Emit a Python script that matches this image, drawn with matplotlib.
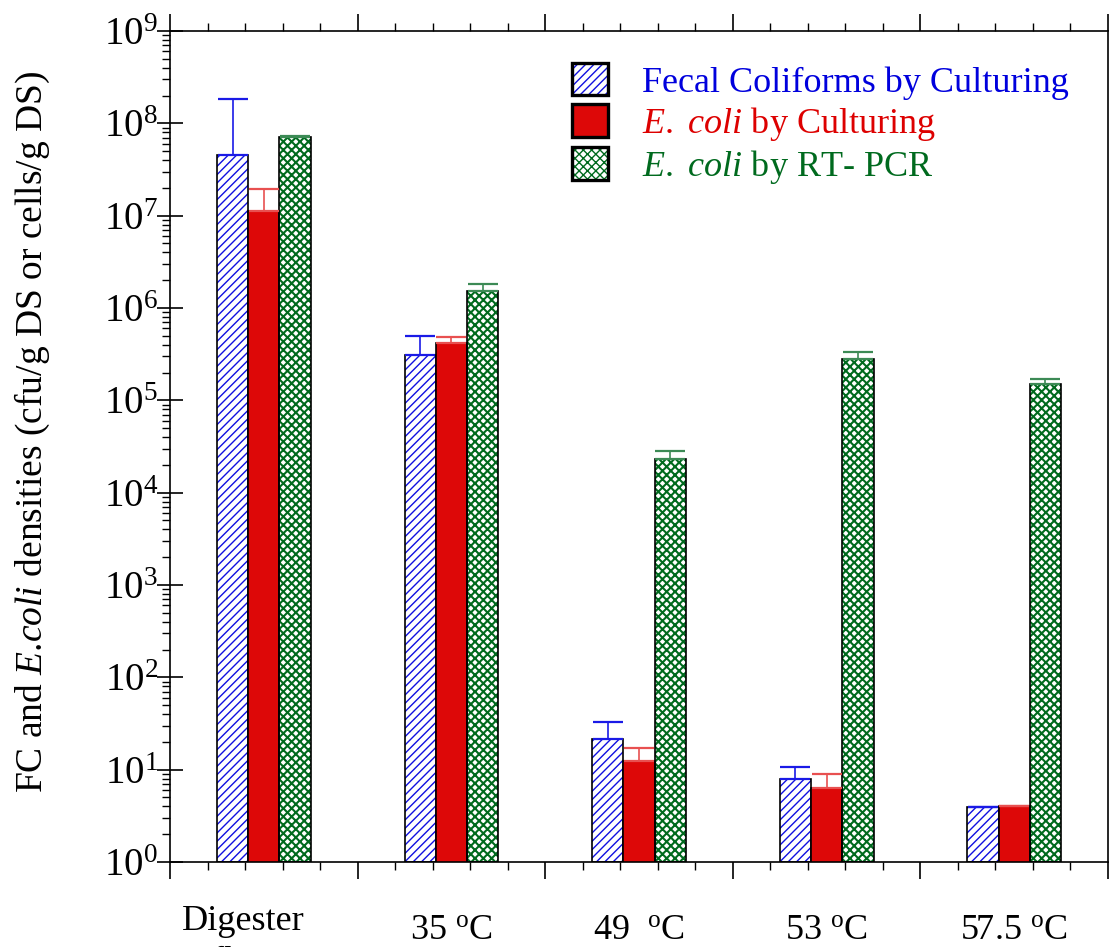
import matplotlib
matplotlib.use("Agg")
import matplotlib.pyplot as plt
import matplotlib.ticker as mticker
import matplotlib.transforms as mtransforms
from matplotlib.patches import Patch
from matplotlib.legend_handler import HandlerTuple
import numpy as np

plt.rcParams['font.family'] = ['Liberation Serif', 'DejaVu Serif']
plt.rcParams['mathtext.fontset'] = 'custom'
plt.rcParams['mathtext.rm'] = 'Liberation Serif'
plt.rcParams['mathtext.it'] = 'Liberation Serif:italic'
plt.rcParams['mathtext.bf'] = 'Liberation Serif:bold'
plt.rcParams['hatch.linewidth'] = 1.0

# ---- data ----
categories = ["Digester\nInfluent", r"35 $^{\mathrm{o}}$C", r"49  $^{\mathrm{o}}$C",
              r"53 $^{\mathrm{o}}$C", r"57.5 $^{\mathrm{o}}$C"]
fc = [4.5e7, 3.08e5, 21.3, 7.87, 3.97]
fc_err_top = [1.84e8, 4.94e5, 33.1, 10.6, 3.97]
ecoli = [1.11e7, 4.21e5, 12.4, 6.28, 4.0]
ecoli_err_top = [1.96e7, 4.82e5, 17.2, 9.04, 4.0]
pcr = [7.2e7, 1.54e6, 2.30e4, 2.81e5, 1.51e5]
pcr_err_top = [7.35e7, 1.83e6, 2.85e4, 3.34e5, 1.69e5]

labels = ["Fecal Coliforms by Culturing",
          r"$\mathit{E.}$ $\mathit{coli}$ by Culturing",
          r"$\mathit{E.}$ $\mathit{coli}$ by RT- PCR"]
text_colors = ["#0000DD", "#DD0000", "#006A1E"]

blue = "#1010E0"
red = "#DD0808"
green = "#006A1E"
err_colors = ["#1A1AE6", "#E85050", "#3C8A55"]

fig = plt.figure(figsize=(11.09, 9.47), dpi=100)
ax = fig.add_axes([170/1109, 85/947, 938/1109, 831/947])

n = len(categories)
x = np.arange(n) + 0.5
w = 1/6
base = 1.0

series = [fc, ecoli, pcr]
errs = [fc_err_top, ecoli_err_top, pcr_err_top]
offsets = [-w, 0, w]

def heights(v):
    return np.array(v) - base

# FC bars (hatched blue)
ax.bar(x + offsets[0], heights(fc), width=w, bottom=base, color='white', edgecolor=blue,
       hatch='////', linewidth=0, zorder=2)
ax.bar(x + offsets[0], heights(fc), width=w, bottom=base, fill=False, edgecolor='black',
       linewidth=1.2, zorder=3)
# E. coli bars (solid red)
ax.bar(x + offsets[1], heights(ecoli), width=w, bottom=base, color=red, edgecolor='black',
       linewidth=1.2, zorder=3)
# RT-PCR bars (crosshatch green)
with plt.rc_context({'hatch.linewidth': 1.5}):
    ax.bar(x + offsets[2], heights(pcr), width=w, bottom=base, color='white', edgecolor=green,
           hatch='xxxx', linewidth=0, zorder=2)
ax.bar(x + offsets[2], heights(pcr), width=w, bottom=base, fill=False, edgecolor='black',
       linewidth=1.2, zorder=3)

for vals, top, off, c in zip(series, errs, offsets, err_colors):
    v = np.array(vals)
    up = np.array(top) - v
    ax.errorbar(x + off, v, yerr=[np.zeros_like(v), up], fmt='none',
                ecolor=c, elinewidth=1.2, capsize=11, capthick=1.6, zorder=4)

ax.set_yscale('log')
ax.set_ylim(1, 1e9)
ax.set_xlim(0, n)

ax.yaxis.set_major_locator(mticker.LogLocator(base=10, numticks=20))
ax.yaxis.set_minor_locator(mticker.LogLocator(base=10, subs=np.arange(2, 10), numticks=20))
ax.yaxis.set_minor_formatter(mticker.NullFormatter())
ax.tick_params(axis='y', which='major', direction='inout', length=19, width=1.2,
               labelsize=28, pad=-1, right=False)
ax.tick_params(axis='y', which='minor', direction='out', length=6, width=1.0, right=False)

ax.xaxis.set_major_locator(mticker.MultipleLocator(1))
ax.xaxis.set_minor_locator(mticker.MultipleLocator(0.2))
ax.xaxis.set_major_formatter(mticker.NullFormatter())
ax.tick_params(axis='x', which='major', direction='out', length=12.5, width=1.2,
               top=True, bottom=True)
ax.tick_params(axis='x', which='minor', direction='out', length=6, width=1.0,
               top=True, bottom=True)

for s in ax.spines.values():
    s.set_linewidth(1.2)

# category labels
trans = mtransforms.blended_transform_factory(ax.transData, ax.transAxes)
for i, (xi, lab) in enumerate(zip(x, categories)):
    if i == 0:
        t = mtransforms.offset_copy(trans, fig=fig, x=-20, y=0, units='dots')
        ax.text(xi, -(65 + 44)/831, lab, transform=t, ha='center', va='baseline',
                fontsize=26, multialignment='left', linespacing=1.32)
    else:
        ax.text(xi, -77/831, lab, transform=trans, ha='center', va='baseline',
                fontsize=26)

ax.set_ylabel(r"FC and $\mathit{E}$.$\mathit{coli}$ densities (cfu/g DS or cells/g DS)",
              fontsize=27)
ax.yaxis.set_label_coords(-0.126, 0.517)

# legend
h_fc = (Patch(facecolor='white', edgecolor=blue, hatch='////', linewidth=0),
        Patch(fill=False, edgecolor='black', linewidth=2.4))
h_ec = Patch(facecolor=red, edgecolor='black', linewidth=2.4)
with plt.rc_context({'hatch.linewidth': 1.5}):
    h_pcr_fill = Patch(facecolor='white', edgecolor=green, hatch='xxxx', linewidth=0)
h_pcr = (h_pcr_fill, Patch(fill=False, edgecolor='black', linewidth=2.4))
leg = ax.legend([h_fc, h_ec, h_pcr], labels,
                handler_map={tuple: HandlerTuple(ndivide=1, pad=0)},
                loc='upper left', bbox_to_anchor=(0.4286, 0.9615),
                frameon=False, fontsize=26, handlelength=1.0, handleheight=1.0,
                handletextpad=0.95, labelspacing=0.13, borderpad=0, borderaxespad=0)
for t, c in zip(leg.get_texts(), text_colors):
    t.set_color(c)

fig.savefig("out.png", dpi=100)
